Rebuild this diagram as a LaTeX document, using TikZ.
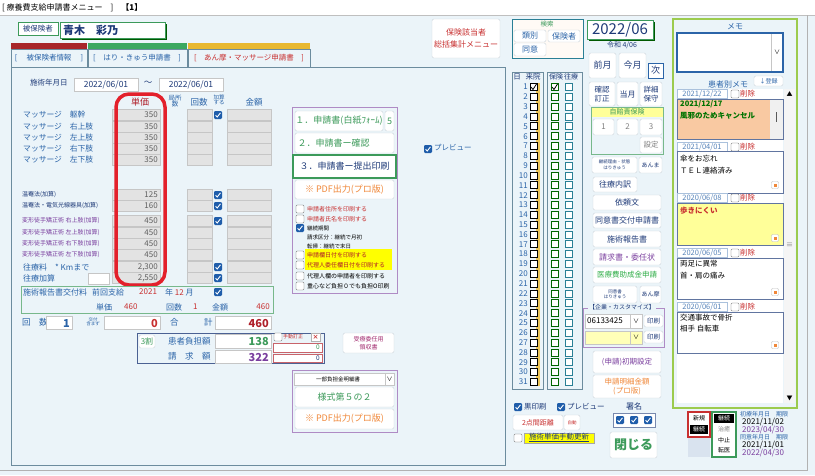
\documentclass[tikz,border=0pt]{standalone}
\usepackage{fontspec}
\setmainfont{Noto Sans CJK JP}
\newcommand{\fs}[1]{\fontsize{#1}{#1}\selectfont}
\definecolor{bg}{HTML}{EBF4F9}
\definecolor{pnl}{HTML}{6C8C9E}
\definecolor{lblue}{HTML}{2B64A8}
\definecolor{navy}{HTML}{1E3A78}
\definecolor{dred}{HTML}{B0202A}
\definecolor{hlred}{HTML}{E3202B}
\definecolor{gbox}{HTML}{E3E3E3}
\definecolor{gboxb}{HTML}{C6C6C6}
\definecolor{grn}{HTML}{3C9A5A}
\definecolor{org}{HTML}{F0883A}
\definecolor{prp}{HTML}{7A3E9E}
\definecolor{chkb}{HTML}{1F5DAA}
\definecolor{memog}{HTML}{9CCB4E}
\definecolor{btnb}{HTML}{CDD6DC}
\definecolor{tabred}{HTML}{A8262A}
\definecolor{tabgrn}{HTML}{3CA860}
\definecolor{tabyel}{HTML}{E8B830}
\definecolor{peach}{HTML}{F9C9A2}
\definecolor{lyel}{HTML}{FFFF99}
\definecolor{yel}{HTML}{FFFF00}
\definecolor{redt}{HTML}{C83030}
\definecolor{teal}{HTML}{2A7F95}
\newcommand{\ubtn}[7]{\draw[#5] (#1,#2) rectangle (#3,#4); \node[#6] at ({(#1+#3)/2},{(#2+#4)/2}) {#7};}
\newcommand{\gval}[4]{\draw[gb] (#1,{#2-5.5}) rectangle (#3,{#2+5.5}); \node[anchor=east,inner sep=0,font=\fs{8},text=gray!75!black] at ({#3-2},#2) {#4};}
\newcommand{\cON}[2]{\fill[chkb,rounded corners=1.2] ({#1-4},{#2-4}) rectangle ({#1+4},{#2+4}); \draw[white,line width=0.9] ({#1-2.4},{#2+0.2}) -- ({#1-0.8},{#2+2}) -- ({#1+2.5},{#2-2.2});}
\newcommand{\cOFF}[2]{\draw[gray!80!black,fill=white,rounded corners=1.2] ({#1-4},{#2-4}) rectangle ({#1+4},{#2+4});}
\newcommand{\mico}[2]{\draw[gray!50,fill=white,rounded corners=1] ({#1-3.5},{#2-3.5}) rectangle ({#1+3.5},{#2+3.5}); \fill[org] ({#1-1.5},{#2-1.5}) rectangle ({#1+1.5},{#2+1.5});}
\begin{document}
\begin{tikzpicture}[x=1pt,y=-1pt,
 lt/.style={inner sep=0,anchor=west,font=\fs{8.5}},
 ct/.style={inner sep=0,font=\fs{8.5}},
 rt/.style={inner sep=0,anchor=east,font=\fs{8.5}},
 btn/.style={draw=btnb,fill=white,rounded corners=1.5},
 gb/.style={draw=gboxb,fill=gbox},
 wb/.style={draw=gboxb,fill=white}]
\useasboundingbox (0,0) rectangle (815,475);
\fill[white] (0,0) rectangle (815,15);
\fill[bg] (0,15) rectangle (815,475);
\draw[gray!50] (0,15) -- (815,15);
\draw[gray!60] (807,15) -- (807,470) -- (0,470);
\node[lt,font=\fs{8}] at (2,8) {[ 療養費支給申請書メニュー　]　\textbf{【1】}};
% patient
\draw[grn,fill=white] (18,22) rectangle (58,35); \node[ct,font=\fs{7.5},text=navy] at (38,28.5) {被保険者};
\fill[green!35!black] (62,24) rectangle (167,40);
\draw[grn,fill=white] (60,22) rectangle (165,38);
\node[lt,font=\fs{11}\bfseries,text=navy] at (63,30) {青木　彩乃};
% tabs
\fill[tabred] (11,43) rectangle (87,49);
\fill[tabgrn] (88,43) rectangle (187,49);
\fill[tabyel] (188,43) rectangle (310,49);
\draw[pnl] (11,49) rectangle (87,67); \node[ct,font=\fs{7.5},text=lblue] at (49,58) {[　 被保険者情報 　]};
\draw[pnl] (88,49) rectangle (187,67); \node[ct,font=\fs{7.5},text=lblue] at (137,58) {[　はり・きゅう申請書　]};
\draw[pnl] (188,49) rectangle (310,67); \node[ct,font=\fs{7.5},text=redt] at (249,58) {[　あん摩・マッサージ申請書　]};
% main panel
\draw[pnl] (11,67) rectangle (505,465);
\node[lt,font=\fs{7.5},text=navy] at (30,83) {施術年月日};
\draw[wb] (74,78) rectangle (138,91); \node[ct,text=navy] at (106,85) {2022/06/01};
\node[ct,text=navy] at (148,83) {〜};
\draw[wb] (159,78) rectangle (223,91); \node[ct,text=navy] at (191,85) {2022/06/01};
% headers
\node[ct,font=\fs{9},text=dred] at (140,102) {単価};
\node[ct,font=\fs{6.5},text=lblue,align=center] at (175,101) {局所\\[-1pt]数};
\node[ct,text=lblue] at (199,102) {回数};
\node[ct,font=\fs{5.5},text=lblue,align=center] at (219,100) {加算\\する};
\node[ct,text=lblue] at (254,102) {金額};
% massage rows
\foreach \yy/\tt in {115/躯幹,127/右上肢,138/左上肢,149/右下肢,160/左下肢}{
 \node[lt,font=\fs{7.8},text=lblue] at (23,\yy) {マッサージ　\tt};
 \gval{112}{\yy}{160}{350}
 \draw[gb] (187,\yy-5.5) rectangle (212,\yy+5.5);
 \draw[gb] (227,\yy-5.5) rectangle (271,\yy+5.5);
}
\cON{218}{115}
% additional rows
\foreach \yy/\tt/\vv/\cc in {195/温罨法(加算)/125/navy,206/温罨法・電気光線器具(加算)/160/navy,221/変形徒手矯正術 右上肢(加算)/450/prp,233/変形徒手矯正術 左上肢(加算)/450/prp,244/変形徒手矯正術 右下肢(加算)/450/prp,255/変形徒手矯正術 左下肢(加算)/450/prp}{
 \node[lt,font=\fs{6},text=\cc] at (22,\yy) {\tt};
 \gval{112}{\yy}{160}{\vv}
 \draw[gb] (187,\yy-5.5) rectangle (212,\yy+5.5);
 \draw[gb] (227,\yy-5.5) rectangle (271,\yy+5.5);
}
\node[lt,font=\fs{8},text=lblue] at (23,267) {往療料　* Kmまで};
\gval{112}{267}{160}{2,300}
\draw[gb] (187,261.5) rectangle (212,272.5); \draw[gb] (227,261.5) rectangle (271,272.5);
\node[lt,font=\fs{8},text=lblue] at (23,278) {往療加算};
\draw[wb] (88,273) rectangle (109,284);
\gval{112}{278}{160}{2,550}
\draw[gb] (187,272.5) rectangle (212,283.5); \draw[gb] (227,272.5) rectangle (271,283.5);
\cON{218}{195} \cON{218}{206} \cON{218}{221} \cON{218}{267} \cON{218}{278}
% red highlight
\draw[hlred,line width=3.5,rounded corners=13] (116,94) rectangle (165,285);
% report fee
\draw[grn!70] (21,286) rectangle (273,313);
\node[lt,font=\fs{8},text=lblue] at (23,292) {施術報告書交付料};
\node[lt,font=\fs{8},text=lblue] at (92,292) {前回支給};
\node[lt,font=\fs{8},text=redt] at (139,292) {2021};
\node[lt,font=\fs{8},text=lblue] at (165,292) {年 {\color{redt}12} 月};
\cON{218}{292}
\node[lt,font=\fs{8},text=lblue] at (96,307) {単価};
\node[lt,font=\fs{8},text=redt] at (124,307) {460};
\node[lt,font=\fs{8},text=lblue] at (166,307) {回数};
\node[lt,font=\fs{8},text=redt] at (193,307) {1};
\node[lt,font=\fs{8},text=lblue] at (212,307) {金額};
\node[rt,font=\fs{8},text=redt] at (270,307) {460};
% totals
\node[lt,text=lblue] at (22,322) {回　数};
\draw[wb] (46,316) rectangle (72,329); \node[rt,font=\fs{11}\bfseries,text=lblue] at (70,323) {1};
\node[ct,font=\fs{4.5},text=lblue,align=center] at (93,322) {交付\\含まず};
\draw[wb] (104,316) rectangle (160,329); \node[rt,font=\fs{11}\bfseries,text=redt] at (158,323) {0};
\node[lt,text=lblue] at (170,322) {合};
\node[lt,text=lblue] at (204,322) {計};
\draw[wb] (215,316) rectangle (271,329); \node[rt,font=\fs{11}\bfseries,text=dred] at (269,323) {460};
% 3wari
\draw[navy!80,line width=0.8] (137,333) rectangle (324,363);
\ubtn{139}{335}{155}{348}{btn}{ct,font=\fs{8},text=grn}{3割}
\node[lt,text=lblue] at (168,341) {患者負担額};
\draw[wb] (215,334) rectangle (271,348); \node[rt,font=\fs{11}\bfseries,text=grn] at (269,341) {138};
\node[lt,text=lblue] at (168,356) {請　求　額};
\draw[wb] (215,350) rectangle (271,363); \node[rt,font=\fs{11}\bfseries,text=prp] at (269,357) {322};
\cOFF{278}{337}
\node[lt,font=\fs{5},text=redt] at (283,337) {手動訂正};
\draw[gray!60,fill=white] (311,333) rectangle (320,341); \node[ct,font=\fs{6}\bfseries,text=redt] at (315.5,337) {×};
\draw[dred!70,fill=white] (273,343) rectangle (322,352); \node[rt,font=\fs{6.5},text=grn] at (320,347.5) {0};
\draw[dred!70,fill=white] (273,354) rectangle (322,362); \node[rt,font=\fs{6.5},text=navy] at (320,358) {0};
\ubtn{343}{333}{394}{353}{btn}{ct,font=\fs{6},text=prp!70!red,align=center}{受療委任用\\[2pt]領収書}
% upper print panel
\draw[prp!60] (292,107) rectangle (397,293);
\ubtn{295}{111}{383}{131}{btn}{ct,font=\fs{9},text=grn}{１．申請書(白紙ﾌｫｰﾑ)}
\ubtn{385}{111}{394}{131}{btn}{ct,font=\fs{9},text=grn}{5}
\ubtn{295}{133}{394}{153}{btn}{lt,font=\fs{9},text=grn,anchor=center}{２．申請書ー確認\hspace*{22pt}}
\ubtn{293}{155}{396}{178}{draw=grn,line width=1.6,fill=white}{ct,font=\fs{9},text=navy}{３．申請書ー提出印刷}
\ubtn{295}{180}{394}{199}{btn}{ct,font=\fs{9},text=org}{※ PDF出力(プロ版)}
\fill[yel] (305,249) rectangle (392,270);
\cOFF{300}{209} \node[lt,font=\fs{6},text=redt] at (307,209) {申請者住所を印刷する};
\cOFF{300}{219} \node[lt,font=\fs{6},text=redt] at (307,219) {申請者氏名を印刷する};
\cON{300}{228} \node[lt,font=\fs{5.5}] at (307,228) {継続期間};
\node[lt,font=\fs{5.5}] at (307,237) {請求区分：継続で月初};
\node[lt,font=\fs{5.5}] at (307,246) {転帰：継続で末日};
\cOFF{300}{255} \node[lt,font=\fs{6},text=dred] at (307,255) {申請欄日付を印刷する};
\cOFF{300}{265} \node[lt,font=\fs{6},text=dred] at (307,265) {代理人委任欄日付を印刷する};
\cOFF{300}{276} \node[lt,font=\fs{6}] at (307,276) {代理人欄の申請者を印刷する};
\cOFF{300}{286} \node[lt,font=\fs{6}] at (307,286) {重心など負担０でも負担O印刷};
\cON{428}{149} \node[lt,font=\fs{7.5},text=lblue] at (434,148) {プレビュー};
% lower print panel
\draw[prp!60] (292,370) rectangle (397,432);
\draw[wb] (294,373) rectangle (394,385); \draw[gboxb] (385,373) -- (385,385);
\node[ct,font=\fs{5.5}] at (338,379) {一部負担金明細書}; \node[ct,font=\fs{6}] at (389.5,379) {∨};
\ubtn{295}{387}{394}{407}{btn}{ct,font=\fs{9},text=grn}{様式第５の２}
\ubtn{295}{409}{394}{429}{btn}{ct,font=\fs{9},text=org}{※ PDF出力(プロ版)}
% top right buttons
\ubtn{432}{19}{500}{58}{btn}{ct,font=\fs{8},text=redt,align=center}{保険該当者\\[4pt]総括集計メニュー}
\draw[teal,fill=orange!4] (512,19) rectangle (583,58);
\node[ct,font=\fs{6.5},text=grn] at (547,24) {検索};
\ubtn{514}{30}{546}{42}{btn}{ct,font=\fs{8},text=lblue}{類別}
\ubtn{548}{30}{580}{42}{btn}{ct,font=\fs{8},text=lblue}{保険者}
\ubtn{514}{43}{546}{56}{btn}{ct,font=\fs{8},text=lblue}{同意}
\fill[green!35!black] (589,22) rectangle (655,41);
\draw[grn,fill=white] (587,20) rectangle (653,39);
\node[ct,font=\fs{15},text=navy] at (620,29.5) {2022/06};
\node[ct,font=\fs{7},text=navy] at (622,45) {令和 4/06};
\ubtn{589}{53}{616}{78}{btn}{ct,font=\fs{9},text=navy}{前月}
\ubtn{619}{53}{646}{78}{btn}{ct,font=\fs{9},text=navy}{今月}
\ubtn{648}{63}{663}{78}{draw=lblue,fill=white}{ct,font=\fs{9},text=navy}{次}
\ubtn{589}{82}{615}{106}{btn}{ct,font=\fs{7.5},text=navy,align=center}{確認\\[2pt]訂正}
\ubtn{617}{82}{638}{106}{btn}{ct,font=\fs{8},text=navy}{当月}
\ubtn{640}{82}{662}{106}{btn}{ct,font=\fs{7.5},text=navy,align=center}{詳細\\[2pt]保守}
\draw[grn!70,fill=bg] (591,107) rectangle (663,154);
\fill[lyel] (591.5,107.5) rectangle (662.5,117);
\node[ct,font=\fs{7},text=grn] at (627,112) {自賠責保険};
\ubtn{593}{119}{614}{135}{btn}{ct,font=\fs{8},text=gray}{1}
\ubtn{617}{119}{638}{135}{btn}{ct,font=\fs{8},text=gray}{2}
\ubtn{640}{119}{662}{135}{btn}{ct,font=\fs{8},text=gray}{3}
\ubtn{640}{137}{662}{153}{btn}{ct,font=\fs{7.5},text=gray}{設定}
\ubtn{592}{157}{637}{173}{btn}{ct,font=\fs{4.5},text=navy,align=center}{継続理由・状態\\[1pt]はりきゅう}
\ubtn{639}{157}{662}{173}{btn}{ct,font=\fs{6},text=navy}{あんま}
\ubtn{593}{177}{637}{192}{btn}{ct,font=\fs{8},text=navy}{往療内訳}
\ubtn{593}{195}{661}{210}{btn}{ct,font=\fs{8},text=navy}{依頼文}
\ubtn{593}{213}{661}{228}{btn}{ct,font=\fs{8},text=navy}{同意書交付申請書}
\ubtn{593}{231}{661}{247}{btn}{ct,font=\fs{8},text=navy}{施術報告書}
\ubtn{593}{249}{661}{265}{btn}{ct,font=\fs{8},text=prp}{請求書・委任状}
\ubtn{593}{267}{661}{283}{btn}{ct,font=\fs{7.5},text=grn!80!green}{医療費助成金申請}
\ubtn{593}{286}{637}{303}{btn}{ct,font=\fs{4.5},text=navy,align=center}{同意書\\[1pt]はりきゅう}
\ubtn{640}{286}{661}{303}{btn}{ct,font=\fs{6},text=navy}{あん摩}
% customize
\draw[prp!60] (583,308) rectangle (664,347);
\node[ct,font=\fs{6},text=navy,fill=bg,inner xsep=1pt] at (622,307) {【企業・カスタマイズ】};
\draw[wb] (585,314) rectangle (642,328); \draw[gboxb] (630,314) -- (630,328);
\node[lt,font=\fs{8}] at (587,321) {06133425}; \node[ct,font=\fs{6}] at (636,321) {∨};
\ubtn{644}{315}{663}{327}{btn}{ct,font=\fs{6.5},text=navy}{印刷}
\draw[gboxb,fill=lyel!70] (585,331) rectangle (642,344); \draw[gboxb] (630,331) -- (630,344);
\node[ct,font=\fs{6}] at (636,337.5) {∨};
\ubtn{644}{331}{663}{343}{btn}{ct,font=\fs{6.5},text=navy}{印刷}
\ubtn{593}{351}{661}{373}{btn}{ct,font=\fs{7.5},text=prp}{(申請)初期設定}
\ubtn{593}{375}{661}{398}{btn}{ct,font=\fs{7.5},text=org,align=center}{申請明細金額\\[2pt](プロ版)}
% bottom controls
\cON{518}{407} \node[lt,font=\fs{7.5},text=navy] at (524,407) {黒印刷};
\cON{561}{407} \node[lt,font=\fs{7.5},text=navy] at (567,407) {プレビュー};
\node[ct,font=\fs{8},text=navy] at (634,406) {署名};
\draw[navy!60,fill=white] (613,413) rectangle (655,427);
\cON{620}{420} \cON{634}{420} \cON{648}{420}
\ubtn{513}{415}{563}{430}{btn}{ct,font=\fs{7},text=redt}{2点間距離}
\ubtn{564}{415}{580}{430}{btn}{ct,font=\fs{4.5},text=redt}{自動}
\cOFF{518}{438}
\draw[gray!70,fill=yel] (524,433) rectangle (594,443);
\node[ct,font=\fs{7.5},text=navy] at (559,437.5) {\underline{施術単価手動更新}};
\ubtn{610}{432}{657}{458}{btn}{ct,font=\fs{13}\bfseries,text=grn}{閉じる}
% days panel
\draw[pnl] (512,72) rectangle (543,389);
\draw[pnl] (547,72) rectangle (582,389);
\node[ct,font=\fs{7.5},text=navy] at (517,77) {日};
\node[ct,font=\fs{7.5},text=navy] at (533,77) {来院};
\node[ct,font=\fs{7},text=navy] at (556,77) {保険};
\node[ct,font=\fs{7},text=navy] at (571,77) {往療};
\fill[tabyel!80] (536,83) rectangle (540,386);
\foreach \d in {1,...,31}{
 \pgfmathsetmacro\yy{87+(\d-1)*9.83}
 \node[rt,font=\fs{8},text=lblue] at (528,\yy) {\d};
 \draw[black,fill=white,line width=0.8] (530,\yy-3.5) rectangle (537,\yy+3.5);
 \draw[green!40!black,fill=white,line width=0.8] (551,\yy-3.5) rectangle (558,\yy+3.5);
 \draw[teal,fill=white,line width=0.8] (565,\yy-3.5) rectangle (572,\yy+3.5);
}
\draw[black,line width=0.8] (531,87) -- (533,89.5) -- (536.5,84);
\draw[black,line width=0.8] (552,87) -- (554,89.5) -- (557.5,84);
% memo panel
\draw[memog,line width=2,fill=bg] (673,19) rectangle (797,408);
\node[ct,font=\fs{8},text=lblue] at (735,27) {メモ};
\draw[lblue,line width=1.8,fill=white] (677,33) rectangle (783,72);
\draw[gboxb] (771,34) -- (771,71); \node[ct,font=\fs{6}] at (777,52) {∨};
\node[ct,font=\fs{8},text=lblue] at (728,84) {患者別メモ};
\ubtn{754}{76}{783}{86}{btn}{ct,font=\fs{6},text=lblue}{↓登録}
\fill[white] (677,89) rectangle (783,403);
\fill[gray!8] (784,89) rectangle (795,403);
\node[ct,font=\fs{6}] at (789.5,94) {▲};
\node[ct,font=\fs{6}] at (789.5,398) {▼};
\node[ct,font=\fs{7},text=gray] at (789.5,245) {≡};
\foreach \dy/\dt/\ta/\tb/\fc in {94/2021\slash 12\slash 22/99/139/peach,147/2021\slash 04\slash 01/151/193/white,198/2020\slash 06\slash 08/203/245/lyel,253/2020\slash 06\slash 05/258/299/white,307/2020\slash 06\slash 01/312/353/white}{
 \draw[lblue!40,fill=white] (677,\dy-4.5) rectangle (727,\dy+4.5);
 \node[ct,font=\fs{7.5},text=lblue!80] at (702,\dy) {\dt};
 \cOFF{735}{\dy}
 \node[lt,font=\fs{7.5},text=redt] at (740,\dy) {削除};
 \draw[navy!70,fill=\fc] (677,\ta) rectangle (783,\tb);
}
\fill[gray!12] (770,99.5) rectangle (782.5,138.5);
\draw[gray!70!black,line width=0.8] (776,112) -- (776,122);
\node[lt,font=\fs{7.5}\bfseries,text=green!45!black] at (680,104) {2021/12/17};
\node[lt,font=\fs{7.5}\bfseries,text=green!45!black] at (680,116) {風邪のためキャンセル};
\node[lt,font=\fs{7.5}] at (680,159) {傘をお忘れ};
\node[lt,font=\fs{7.5}] at (680,171) {ＴＥＬ連絡済み};
\node[lt,font=\fs{7.5}\bfseries,text=redt] at (680,211) {歩きにくい};
\node[lt,font=\fs{7.5}] at (680,264) {両足に異常};
\node[lt,font=\fs{7.5}] at (680,276) {首・肩の痛み};
\node[lt,font=\fs{7.5}] at (680,318) {交通事故で骨折};
\node[lt,font=\fs{7.5}] at (680,329) {相手 自転車};
\mico{775}{185} \mico{775}{238} \mico{775}{292} \mico{775}{345}
% status
\fill[lblue!18] (688,412) rectangle (710,457);
\draw[redt,line width=1.2,fill=white] (688,412) rectangle (710,437);
\node[ct,font=\fs{6}] at (699,418) {新規};
\fill[black] (690,424.5) rectangle (708,433.5); \node[ct,font=\fs{6},text=white] at (699,429) {継続};
\draw[grn,line width=1.2,fill=white] (712,412) rectangle (736,457);
\fill[black] (714,414) rectangle (734,423); \node[ct,font=\fs{6},text=white] at (724,418.5) {継続};
\node[ct,font=\fs{6},text=gray] at (724,429) {治癒};
\node[ct,font=\fs{6}] at (724,440) {中止};
\node[ct,font=\fs{6}] at (724,450) {転医};
\node[lt,font=\fs{6},text=lblue] at (740,414) {初療年月日　期限};
\node[lt,font=\fs{8}] at (742,422) {2021/11/02};
\node[lt,font=\fs{8},text=prp] at (742,430) {2023/04/30};
\node[lt,font=\fs{6},text=lblue] at (740,437) {同意年月日　期限};
\node[lt,font=\fs{8}] at (742,445) {2021/11/01};
\node[lt,font=\fs{8},text=prp] at (742,453) {2022/04/30};
\end{tikzpicture}
\end{document}
